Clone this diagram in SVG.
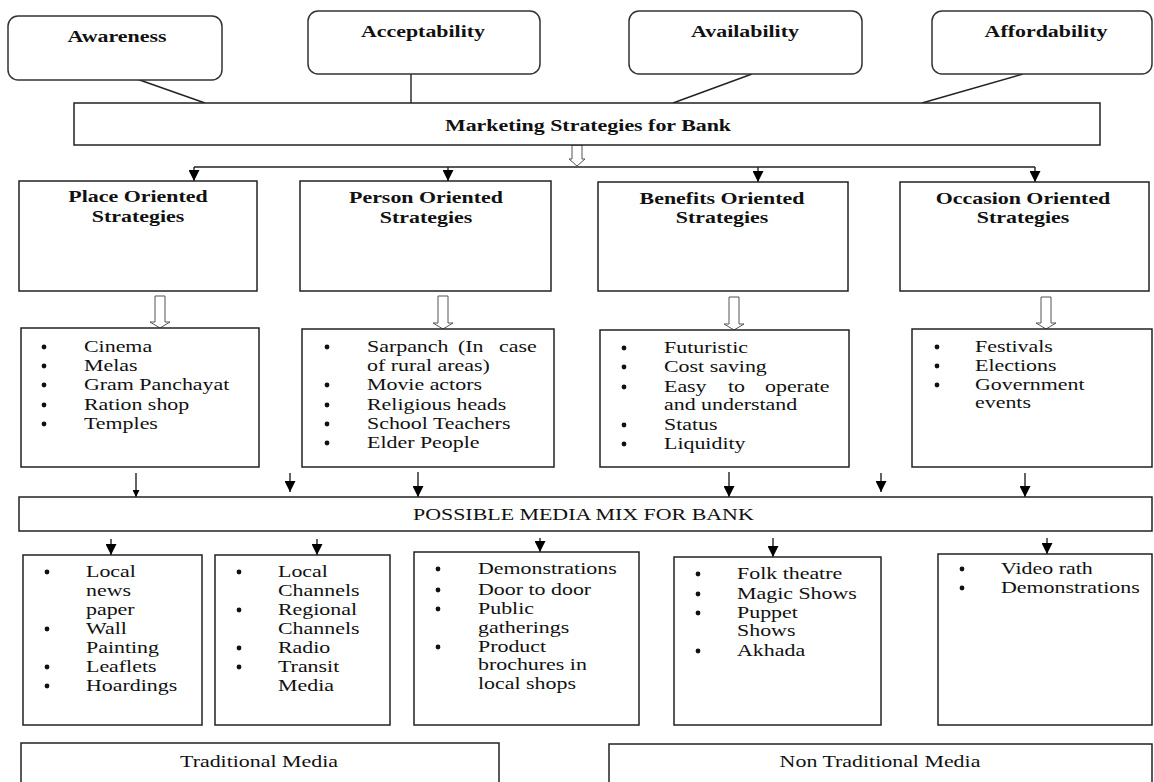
<svg xmlns="http://www.w3.org/2000/svg" width="1154" height="782" viewBox="0 0 1154 782">
<defs>
<style>
.bx{fill:#fff;stroke:#222;stroke-width:1.5}
.rb{fill:#fff;stroke:#333;stroke-width:1.5}
.ln{stroke:#222;stroke-width:1.4;fill:none}
.ho{fill:#fff;stroke:#555;stroke-width:1}
.dot{fill:#111}
text{font-family:"Liberation Serif","Times New Roman",serif;font-size:16px;fill:#111}
.b{font-weight:bold}
.m{text-anchor:middle}
</style>
<marker id="ah" viewBox="0 0 10 10" refX="10" refY="5" markerWidth="11" markerHeight="11" markerUnits="userSpaceOnUse" orient="auto"><path d="M0,0 L10,5 L0,10 z" fill="#000"/></marker>
<marker id="as" viewBox="0 0 10 10" refX="10" refY="5" markerWidth="7" markerHeight="7" markerUnits="userSpaceOnUse" orient="auto"><path d="M0,0 L10,5 L0,10 z" fill="#000"/></marker>
</defs>
<rect width="1154" height="782" fill="#fff"/>

<g id="connectors">
<line class="ln" x1="134" y1="78" x2="205" y2="103"/>
<line class="ln" x1="411" y1="74" x2="411" y2="103"/>
<line class="ln" x1="752" y1="74" x2="673" y2="103"/>
<line class="ln" x1="1023" y1="74" x2="922" y2="103"/>
<path class="ho" d="M572,145 L582,145 L582,159 L585,159 L577,166 L569,159 L572,159 Z"/>
<line class="ln" x1="194" y1="167" x2="1035" y2="167"/>
<line class="ln" x1="194" y1="167" x2="194" y2="181" marker-end="url(#ah)"/>
<line class="ln" x1="448" y1="167" x2="448" y2="181" marker-end="url(#ah)"/>
<line class="ln" x1="758" y1="167" x2="758" y2="182" marker-end="url(#ah)"/>
<line class="ln" x1="1035" y1="167" x2="1035" y2="182" marker-end="url(#ah)"/>
<path class="ho" d="M155,296 L165,296 L165,322 L170,322 L160,328 L150,322 L155,322 Z"/>
<path class="ho" d="M438,296 L448,296 L448,323 L453,323 L443,329 L433,323 L438,323 Z"/>
<path class="ho" d="M729,297 L739,297 L739,324 L744,324 L734,330 L724,324 L729,324 Z"/>
<path class="ho" d="M1041,297 L1051,297 L1051,323 L1056,323 L1046,329 L1036,323 L1041,323 Z"/>
<line class="ln" x1="136" y1="473" x2="136" y2="497" marker-end="url(#as)"/>
<line class="ln" x1="290" y1="473" x2="290" y2="492" marker-end="url(#ah)"/>
<line class="ln" x1="418" y1="472" x2="418" y2="497" marker-end="url(#ah)"/>
<line class="ln" x1="729" y1="472" x2="729" y2="497" marker-end="url(#ah)"/>
<line class="ln" x1="881" y1="473" x2="881" y2="492" marker-end="url(#ah)"/>
<line class="ln" x1="1025" y1="473" x2="1025" y2="497" marker-end="url(#ah)"/>
<line class="ln" x1="111" y1="539" x2="111" y2="555" marker-end="url(#ah)"/>
<line class="ln" x1="317" y1="539" x2="317" y2="555" marker-end="url(#ah)"/>
<line class="ln" x1="540" y1="538" x2="540" y2="552" marker-end="url(#ah)"/>
<line class="ln" x1="773" y1="538" x2="773" y2="557" marker-end="url(#ah)"/>
<line class="ln" x1="1047" y1="538" x2="1047" y2="554" marker-end="url(#ah)"/>
</g>

<g id="awareness">
<rect class="rb" x="8" y="16" width="214" height="64" rx="10"/>
<text class="b m" transform="translate(117,42) scale(1.37,1)">Awareness</text>
</g>
<g id="acceptability">
<rect class="rb" x="308" y="11" width="232" height="63" rx="10"/>
<text class="b m" transform="translate(423,37) scale(1.37,1)">Acceptability</text>
</g>
<g id="availability">
<rect class="rb" x="629" y="11" width="233" height="63" rx="10"/>
<text class="b m" transform="translate(745,37) scale(1.37,1)">Availability</text>
</g>
<g id="affordability">
<rect class="rb" x="932" y="11" width="220" height="63" rx="10"/>
<text class="b m" transform="translate(1046,37) scale(1.37,1)">Affordability</text>
</g>

<g id="marketing">
<rect class="bx" x="74" y="103" width="1026" height="42"/>
<text class="b m" transform="translate(588,131) scale(1.37,1)">Marketing Strategies for Bank</text>
</g>

<g id="place">
<rect class="bx" x="19" y="181" width="238" height="110"/>
<text class="b m" transform="translate(138,202) scale(1.37,1)">Place Oriented</text>
<text class="b m" transform="translate(138,222) scale(1.37,1)">Strategies</text>
</g>
<g id="person">
<rect class="bx" x="300" y="181" width="251" height="110"/>
<text class="b m" transform="translate(426,203) scale(1.37,1)">Person Oriented</text>
<text class="b m" transform="translate(426,223) scale(1.37,1)">Strategies</text>
</g>
<g id="benefits">
<rect class="bx" x="598" y="182" width="250" height="109"/>
<text class="b m" transform="translate(722,204) scale(1.37,1)">Benefits Oriented</text>
<text class="b m" transform="translate(722,223) scale(1.37,1)">Strategies</text>
</g>
<g id="occasion">
<rect class="bx" x="900" y="182" width="249" height="109"/>
<text class="b m" transform="translate(1023,204) scale(1.37,1)">Occasion Oriented</text>
<text class="b m" transform="translate(1023,223) scale(1.37,1)">Strategies</text>
</g>

<g id="place-list">
<rect class="bx" x="21" y="328" width="238" height="139"/>
<circle class="dot" cx="44" cy="347" r="2.4"/><text transform="translate(84,352) scale(1.37,1)">Cinema</text>
<circle class="dot" cx="44" cy="366" r="2.4"/><text transform="translate(84,371) scale(1.37,1)">Melas</text>
<circle class="dot" cx="44" cy="385" r="2.4"/><text transform="translate(84,390) scale(1.37,1)">Gram Panchayat</text>
<circle class="dot" cx="44" cy="405" r="2.4"/><text transform="translate(84,410) scale(1.37,1)">Ration shop</text>
<circle class="dot" cx="44" cy="424" r="2.4"/><text transform="translate(84,429) scale(1.37,1)">Temples</text>
</g>
<g id="person-list">
<rect class="bx" x="302" y="329" width="252" height="138"/>
<circle class="dot" cx="327" cy="347" r="2.4"/><text transform="translate(367,352) scale(1.37,1)">Sarpanch</text><text transform="translate(458,352) scale(1.37,1)">(In</text><text transform="translate(499,352) scale(1.37,1)">case</text>
<text transform="translate(367,371) scale(1.37,1)">of rural areas)</text>
<circle class="dot" cx="327" cy="385" r="2.4"/><text transform="translate(367,390) scale(1.37,1)">Movie actors</text>
<circle class="dot" cx="327" cy="405" r="2.4"/><text transform="translate(367,410) scale(1.37,1)">Religious heads</text>
<circle class="dot" cx="327" cy="424" r="2.4"/><text transform="translate(367,429) scale(1.37,1)">School Teachers</text>
<circle class="dot" cx="327" cy="443" r="2.4"/><text transform="translate(367,448) scale(1.37,1)">Elder People</text>
</g>
<g id="benefits-list">
<rect class="bx" x="600" y="330" width="249" height="137"/>
<circle class="dot" cx="624" cy="348" r="2.4"/><text transform="translate(664,353) scale(1.37,1)">Futuristic</text>
<circle class="dot" cx="624" cy="367" r="2.4"/><text transform="translate(664,372) scale(1.37,1)">Cost saving</text>
<circle class="dot" cx="624" cy="387" r="2.4"/><text transform="translate(664,392) scale(1.37,1)">Easy</text><text transform="translate(728,392) scale(1.37,1)">to</text><text transform="translate(765,392) scale(1.37,1)">operate</text>
<text transform="translate(664,410) scale(1.37,1)">and understand</text>
<circle class="dot" cx="624" cy="425" r="2.4"/><text transform="translate(664,430) scale(1.37,1)">Status</text>
<circle class="dot" cx="624" cy="444" r="2.4"/><text transform="translate(664,449) scale(1.37,1)">Liquidity</text>
</g>
<g id="occasion-list">
<rect class="bx" x="912" y="329" width="240" height="138"/>
<circle class="dot" cx="937" cy="347" r="2.4"/><text transform="translate(975,352) scale(1.37,1)">Festivals</text>
<circle class="dot" cx="937" cy="366" r="2.4"/><text transform="translate(975,371) scale(1.37,1)">Elections</text>
<circle class="dot" cx="937" cy="385" r="2.4"/><text transform="translate(975,390) scale(1.37,1)">Government</text>
<text transform="translate(975,408) scale(1.37,1)">events</text>
</g>

<g id="media-mix">
<rect class="bx" x="19" y="497" width="1133" height="34"/>
<text transform="translate(413,520) scale(1.37,1)">POSSIBLE MEDIA MIX FOR BANK</text>
</g>

<g id="media1">
<rect class="bx" x="23" y="555" width="179" height="170"/>
<circle class="dot" cx="47" cy="572" r="2.4"/><text transform="translate(86,577) scale(1.37,1)">Local</text>
<text transform="translate(86,596) scale(1.37,1)">news</text>
<text transform="translate(86,615) scale(1.37,1)">paper</text>
<circle class="dot" cx="47" cy="629" r="2.4"/><text transform="translate(86,634) scale(1.37,1)">Wall</text>
<text transform="translate(86,653) scale(1.37,1)">Painting</text>
<circle class="dot" cx="47" cy="667" r="2.4"/><text transform="translate(86,672) scale(1.37,1)">Leaflets</text>
<circle class="dot" cx="47" cy="686" r="2.4"/><text transform="translate(86,691) scale(1.37,1)">Hoardings</text>
</g>
<g id="media2">
<rect class="bx" x="215" y="555" width="175" height="170"/>
<circle class="dot" cx="239" cy="572" r="2.4"/><text transform="translate(278,577) scale(1.37,1)">Local</text>
<text transform="translate(278,596) scale(1.37,1)">Channels</text>
<circle class="dot" cx="239" cy="610" r="2.4"/><text transform="translate(278,615) scale(1.37,1)">Regional</text>
<text transform="translate(278,634) scale(1.37,1)">Channels</text>
<circle class="dot" cx="239" cy="648" r="2.4"/><text transform="translate(278,653) scale(1.37,1)">Radio</text>
<circle class="dot" cx="239" cy="667" r="2.4"/><text transform="translate(278,672) scale(1.37,1)">Transit</text>
<text transform="translate(278,691) scale(1.37,1)">Media</text>
</g>
<g id="media3">
<rect class="bx" x="414" y="552" width="225" height="173"/>
<circle class="dot" cx="438" cy="569" r="2.4"/><text transform="translate(478,574) scale(1.37,1)">Demonstrations</text>
<circle class="dot" cx="438" cy="590" r="2.4"/><text transform="translate(478,595) scale(1.37,1)">Door to door</text>
<circle class="dot" cx="438" cy="609" r="2.4"/><text transform="translate(478,614) scale(1.37,1)">Public</text>
<text transform="translate(478,633) scale(1.37,1)">gatherings</text>
<circle class="dot" cx="438" cy="647" r="2.4"/><text transform="translate(478,652) scale(1.37,1)">Product</text>
<text transform="translate(478,670) scale(1.37,1)">brochures in</text>
<text transform="translate(478,689) scale(1.37,1)">local shops</text>
</g>
<g id="media4">
<rect class="bx" x="674" y="557" width="207" height="168"/>
<circle class="dot" cx="698" cy="574" r="2.4"/><text transform="translate(737,579) scale(1.37,1)">Folk theatre</text>
<circle class="dot" cx="698" cy="594" r="2.4"/><text transform="translate(737,599) scale(1.37,1)">Magic Shows</text>
<circle class="dot" cx="698" cy="613" r="2.4"/><text transform="translate(737,618) scale(1.37,1)">Puppet</text>
<text transform="translate(737,636) scale(1.37,1)">Shows</text>
<circle class="dot" cx="698" cy="651" r="2.4"/><text transform="translate(737,656) scale(1.37,1)">Akhada</text>
</g>
<g id="media5">
<rect class="bx" x="938" y="554" width="214" height="171"/>
<circle class="dot" cx="962" cy="569" r="2.4"/><text transform="translate(1001,574) scale(1.37,1)">Video rath</text>
<circle class="dot" cx="962" cy="588" r="2.4"/><text transform="translate(1001,593) scale(1.37,1)">Demonstrations</text>
</g>

<g id="traditional">
<rect class="bx" x="21" y="743" width="478" height="50"/>
<text class="m" transform="translate(259,767) scale(1.37,1)">Traditional Media</text>
</g>
<g id="non-traditional">
<rect class="bx" x="609" y="744" width="543" height="50"/>
<text class="m" transform="translate(880,767) scale(1.37,1)">Non Traditional Media</text>
</g>
</svg>
